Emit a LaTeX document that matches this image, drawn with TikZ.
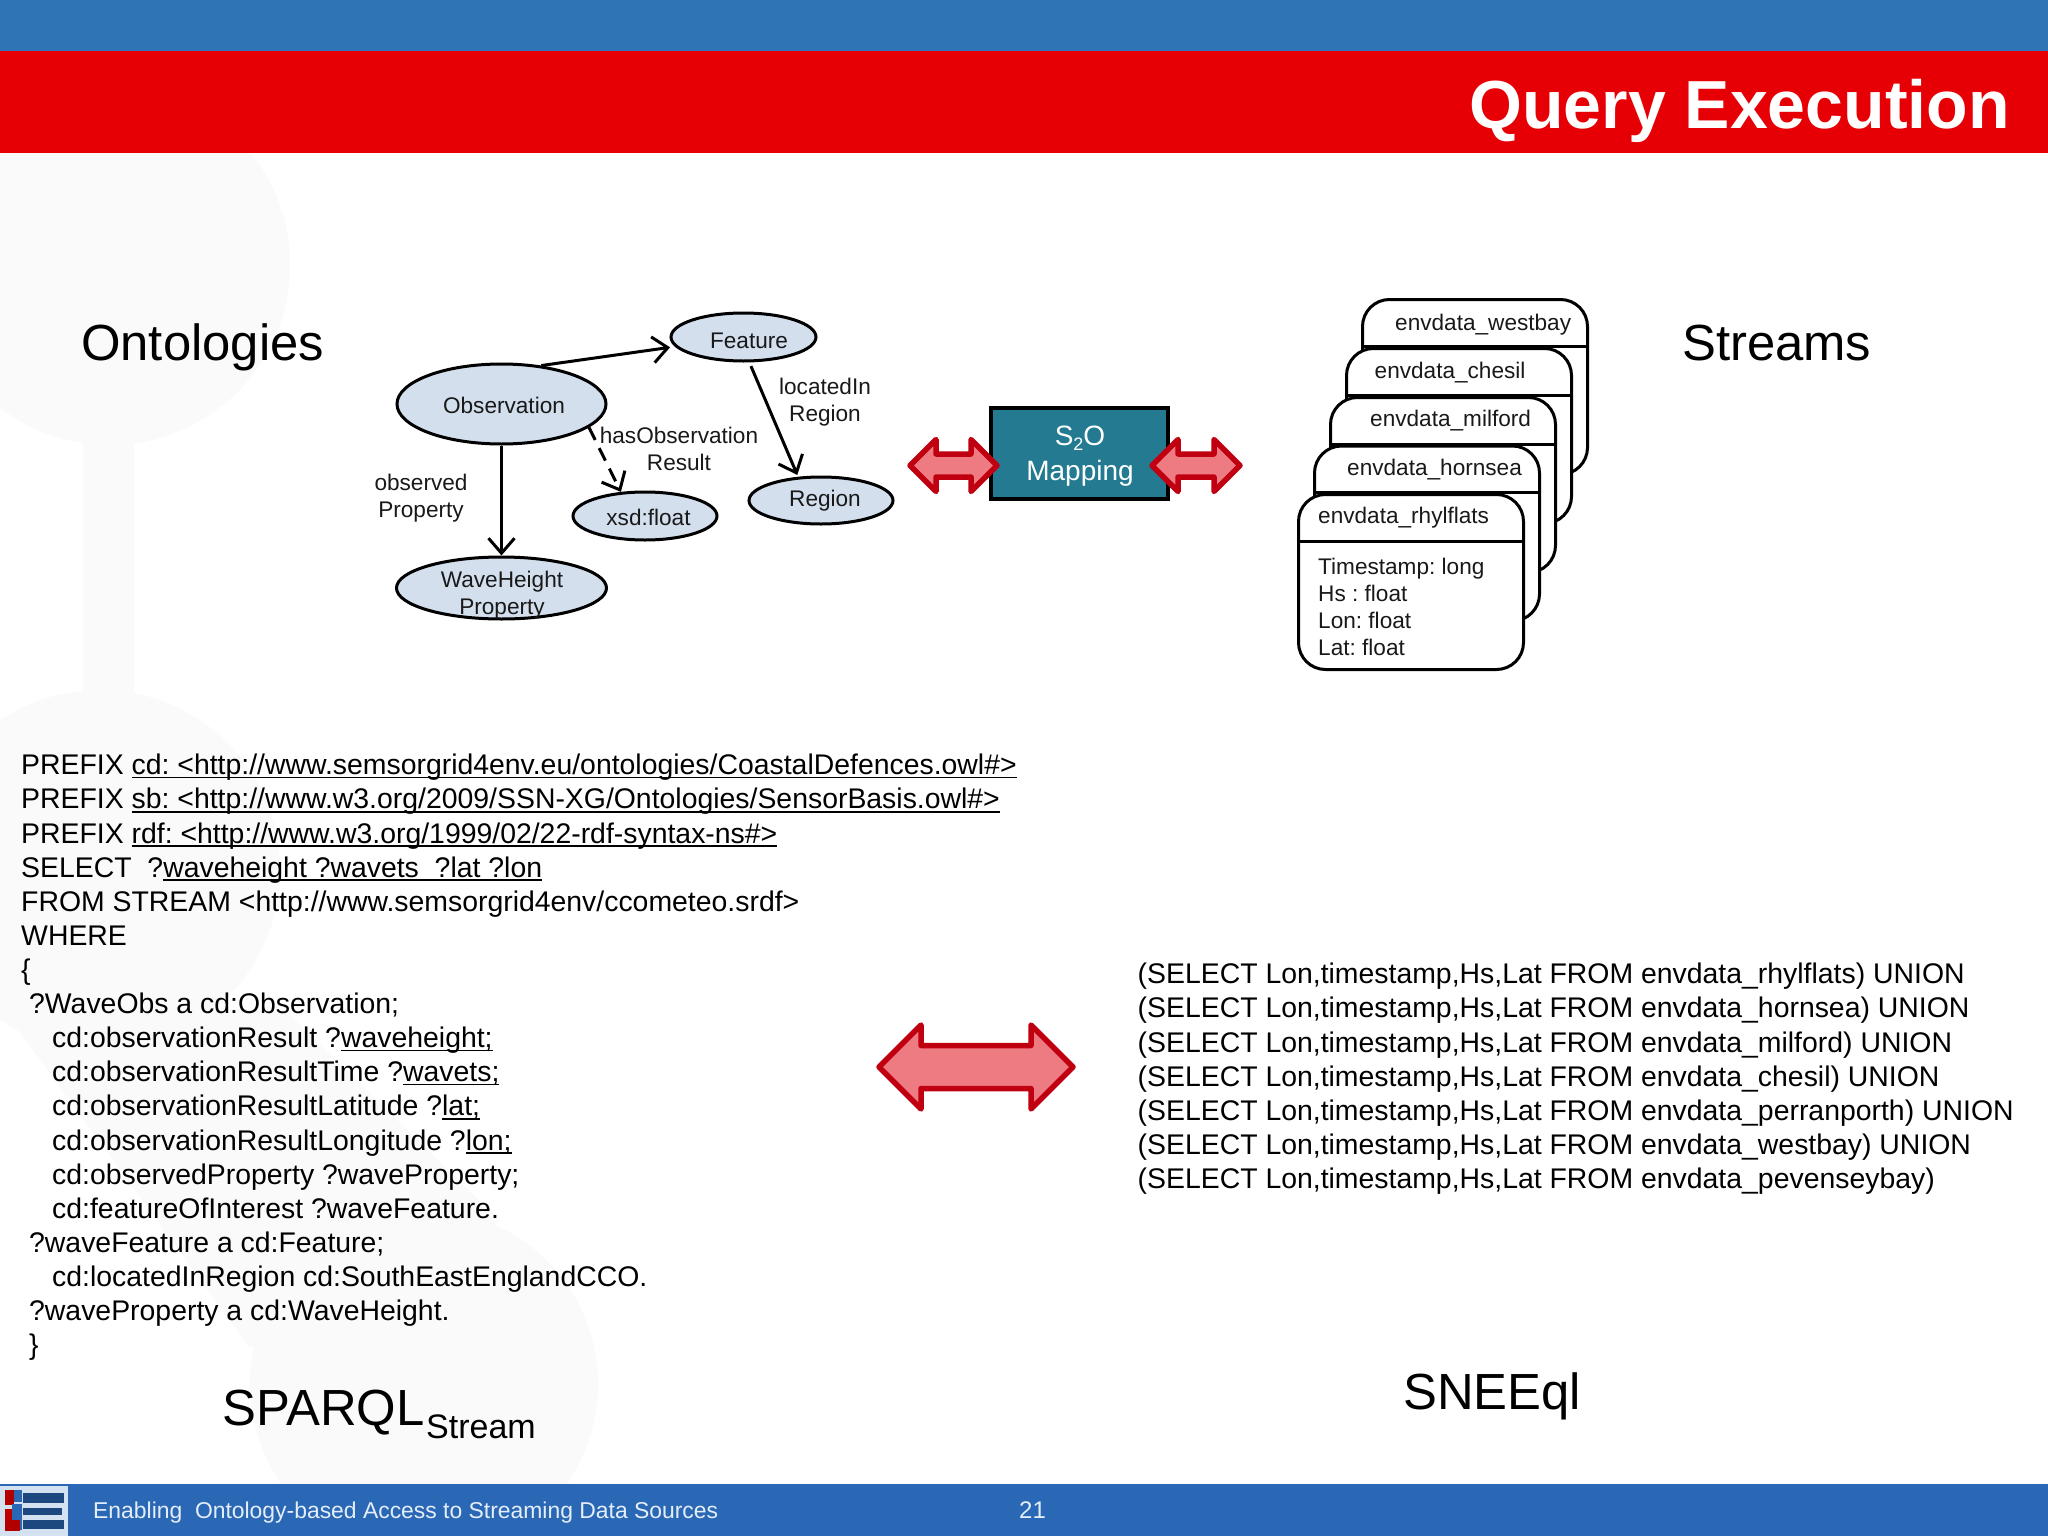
\documentclass[tikz,border=0pt]{standalone}
\usepackage{fontspec}
\setmainfont{Liberation Sans}
\usetikzlibrary{shapes.geometric,arrows.meta}
\definecolor{topblue}{HTML}{2F74B5}
\definecolor{hdrred}{HTML}{E60005}
\definecolor{footblue}{HTML}{2A67B5}
\definecolor{ellfill}{HTML}{D3DFED}
\definecolor{teal}{HTML}{247A91}
\definecolor{arrowfill}{HTML}{EE7A82}
\definecolor{arrowline}{HTML}{C00010}
\definecolor{wm}{HTML}{FAFAFB}
\definecolor{foottext}{HTML}{E4EEF8}
\newlength{\ulwd}
\newcommand{\ulx}[1]{\settowidth{\ulwd}{#1}\rlap{\rule[-3.6pt]{\ulwd}{1.6pt}}#1}
\newcommand{\fs}[2]{\fontsize{#1}{#2}\selectfont\frenchspacing}
\tikzset{
  x=1pt,y=-1pt,
  cls/.style={draw=black,line width=3pt,fill=ellfill,ellipse,inner sep=0pt},
  lab/.style={font=\fs{22.6}{27},align=center,inner sep=0pt,text=black!90},
  conn/.style={line width=3pt,-{Straight Barb[length=15pt,width=26pt,line width=3pt]}},
  big/.style={font=\fs{50.8}{60},inner sep=0pt,anchor=base west},
  code/.style={font=\fs{28.4}{34.12},inner sep=0pt,anchor=north west,align=left},
  tbl/.style={draw=black,line width=3pt,fill=white,rectangle,rounded corners=27pt,minimum width=225pt,minimum height=175pt,inner sep=0pt,anchor=north west},
  tname/.style={font=\fs{22.6}{27},inner sep=0pt,anchor=west,text=black!90},
  dbl/.style={fill=arrowfill,draw=arrowline,line width=5.5pt,line join=round},
  wmark/.style={fill=wm,draw=none}
}
\newcommand{\streamtable}[3]{%
  \node[tbl] (#1) at (#2,#3) {};
  \draw[line width=3pt] (#2,#3+48) -- (#2+225,#3+48);
}
% centre x, centre y, half length, half head, half shaft
\newcommand{\dblarrow}[5]{%
  \draw[dbl] (#1-#3,#2) -- (#1-#3+#4,#2-#4) -- (#1-#3+#4,#2-#5) -- (#1+#3-#4,#2-#5) -- (#1+#3-#4,#2-#4) -- (#1+#3,#2) -- (#1+#3-#4,#2+#4) -- (#1+#3-#4,#2+#5) -- (#1-#3+#4,#2+#5) -- (#1-#3+#4,#2+#4) -- cycle;
}
\begin{document}
\begin{tikzpicture}
\useasboundingbox (0,0) rectangle (2048,1536);
\fill[white] (0,0) rectangle (2048,1536);
% watermark
\fill[wmark] (110,265) circle[radius=180];
\fill[wmark] (83,430) rectangle (134,720);
\fill[wmark] (100,870) circle[radius=180];
\fill[wmark] (285,1010) -- (500,1221) -- (250,1348) -- (0,1005) -- cycle;
\fill[wmark] (424,1384) circle[radius=174];
% bars
\fill[topblue] (0,0) rectangle (2048,51);
\fill[hdrred] (0,51) rectangle (2048,153);
\fill[footblue] (0,1484) rectangle (2048,1536);
\node[font=\fs{68}{80}\bfseries,text=white,inner sep=0pt,anchor=base east] (title) at (2010,129) {Query Execution};
% logo
\fill[white!80!footblue] (0,1486) rectangle (68,1536);
\fill[red!70!black] (5,1490) rectangle (14,1505);
\fill[footblue] (14,1490) rectangle (22,1502);
\fill[red!75!black] (5,1509) rectangle (12,1520);
\fill[footblue] (12,1504) rectangle (22,1530);
\fill[red!70!black] (5,1520) rectangle (20,1531);
\foreach \yy/\xx/\hh in {1493/64/10,1508/62/7,1520/64/9}
  \fill[black!30!footblue] (23,\yy) rectangle (\xx,\yy+\hh);
\node[font=\fs{22.9}{28},text=foottext,inner sep=0pt,anchor=base west] (foot) at (93,1518) {Enabling~~Ontology-based Access to Streaming Data Sources};
\node[font=\fs{24}{28},text=foottext,inner sep=0pt,anchor=base west] (page) at (1019,1518) {21};
% titles
\node[big] (onto) at (81,360) {Ontologies};
\node[big] (streams) at (1682,360) {Streams};
\node[big] (sparql) at (222,1425) {SPARQL};
\node[font=\fs{34}{40},inner sep=0pt,anchor=base west] (sparqlsub) at (426,1438) {Stream};
\node[big] (sneeql) at (1403,1409) {SNEEql};
% ontology
\node[cls,minimum width=209pt,minimum height=80pt] (obs) at (501.5,404) {};
\node[cls,minimum width=145pt,minimum height=48pt] (feat) at (743.5,337) {};
\node[cls,minimum width=144pt,minimum height=47pt] (reg) at (821,500.5) {};
\node[cls,minimum width=144pt,minimum height=48pt] (xsd) at (645,516) {};
\node[cls,minimum width=210pt,minimum height=62pt] (wave) at (501.5,588) {};
\node[lab] (tobs) at (504,405) {Observation};
\node[lab] (tfeat) at (749,341) {Feature};
\node[lab] (treg) at (825,501) {Region};
\node[lab] (txsd) at (648.5,517) {xsd:float};
\node[lab] (twave) at (502,595) {WaveHeight\\Property};
\node[lab] (lobs) at (421,498) {observed\\Property};
\node[lab] (lloc) at (825,402) {locatedIn\\Region};
\node[lab] (lhas) at (679,449) {hasObservation\\Result};
\draw[conn,shorten >=5pt] (obs.44) -- (feat.188);
\draw[conn,shorten <=4pt,shorten >=2pt] (feat.-77) -- (reg.134);
\draw[conn] (obs.south) -- (wave.north);
\draw[conn,dash pattern=on 14pt off 9pt] (obs.-15) -- (xsd.135);
% mapping
\node[draw=black,line width=4pt,fill=teal,rectangle,minimum width=177pt,minimum height=91pt,inner sep=0pt] (map) at (1079.5,453.5) {};
\node[font=\fs{28}{35},text=white,align=center,inner sep=0pt] (tmap) at (1080,456) {S\raisebox{-5pt}{\fs{18}{20}2}O\\Mapping};
\dblarrow{953.5}{465.5}{43.5}{26}{11.5}
\dblarrow{1196}{465.5}{44}{26}{11.5}
\dblarrow{976}{1067}{97}{42}{21.5}
% streams
\streamtable{t1}{1361}{298}
\node[tname] (n1) at (1395,325) {envdata\_westbay};
\streamtable{t2}{1345}{347}
\node[tname] (n2) at (1374.5,373) {envdata\_chesil};
\streamtable{t3}{1329}{396}
\node[tname] (n3) at (1370,421) {envdata\_milford};
\streamtable{t4}{1313}{444.5}
\node[tname] (n4) at (1347,470) {envdata\_hornsea};
\streamtable{t5}{1297}{493}
\node[tname] (n5) at (1318,518) {envdata\_rhylflats};
\node[font=\fs{22.6}{27},align=left,inner sep=0pt,anchor=west,text=black!90] (fields) at (1318,606.5) {Timestamp: long\\Hs : float\\Lon: float\\Lat: float};
% code
\node[code] (q) at (21,754) {%
PREFIX \ulx{cd: <http://www.semsorgrid4env.eu/ontologies/CoastalDefences.owl\#>}\\
PREFIX \ulx{sb: <http://www.w3.org/2009/SSN-XG/Ontologies/SensorBasis.owl\#>}\\
PREFIX \ulx{rdf: <http://www.w3.org/1999/02/22-rdf-syntax-ns\#>}\\
SELECT~~?\ulx{waveheight ?wavets~~?lat ?lon}\\
FROM STREAM <http://www.semsorgrid4env/ccometeo.srdf>\\
WHERE\\
\{\\
\hspace*{8pt}?WaveObs a cd:Observation;\\
\hspace*{31pt}cd:observationResult ?\ulx{waveheight;}\\
\hspace*{31pt}cd:observationResultTime ?\ulx{wavets;}\\
\hspace*{31pt}cd:observationResultLatitude ?\ulx{lat;}\\
\hspace*{31pt}cd:observationResultLongitude ?\ulx{lon;}\\
\hspace*{31pt}cd:observedProperty ?waveProperty;\\
\hspace*{31pt}cd:featureOfInterest ?waveFeature.\\
\hspace*{8pt}?waveFeature a cd:Feature;\\
\hspace*{31pt}cd:locatedInRegion cd:SouthEastEnglandCCO.\\
\hspace*{8pt}?waveProperty a cd:WaveHeight.\\
\hspace*{8pt}\}};
\node[code] (sql) at (1137.5,963) {%
(SELECT Lon,timestamp,Hs,Lat FROM envdata\_rhylflats) UNION\\
(SELECT Lon,timestamp,Hs,Lat FROM envdata\_hornsea) UNION\\
(SELECT Lon,timestamp,Hs,Lat FROM envdata\_milford) UNION\\
(SELECT Lon,timestamp,Hs,Lat FROM envdata\_chesil) UNION\\
(SELECT Lon,timestamp,Hs,Lat FROM envdata\_perranporth) UNION\\
(SELECT Lon,timestamp,Hs,Lat FROM envdata\_westbay) UNION\\
(SELECT Lon,timestamp,Hs,Lat FROM envdata\_pevenseybay)};
\end{tikzpicture}
\end{document}
